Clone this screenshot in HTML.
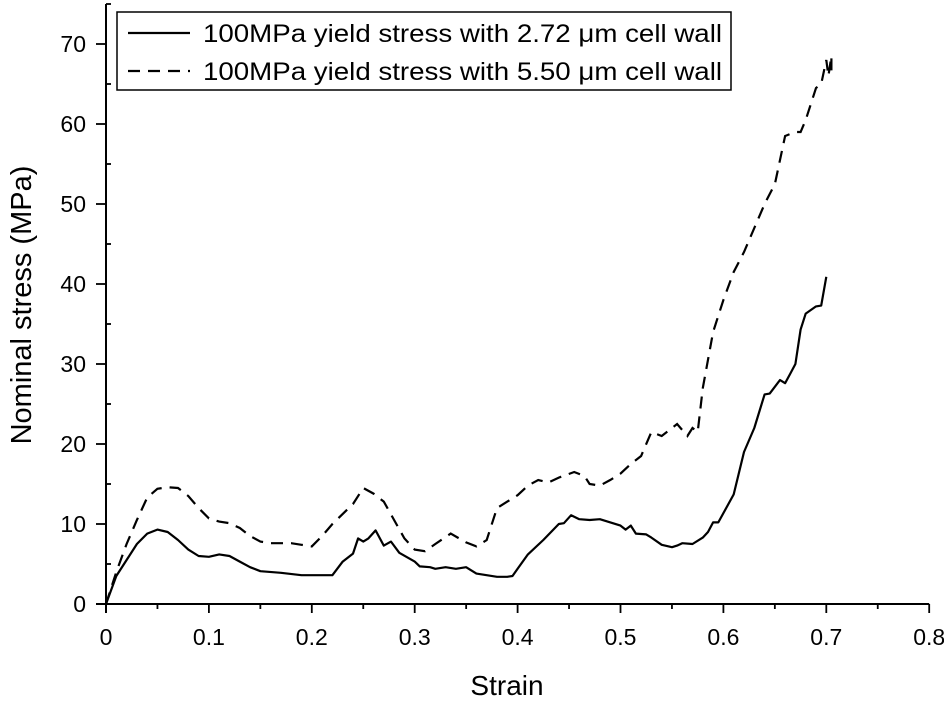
<!DOCTYPE html>
<html><head><meta charset="utf-8"><style>
body{margin:0;background:#fff;}
svg text{font-family:"Liberation Sans",Arial,sans-serif;fill:#000;}
</style></head><body>
<svg id="chart" width="944" height="707" viewBox="0 0 944 707" xmlns="http://www.w3.org/2000/svg">
<g id="axes"></g>
<g id="series"></g>
<g id="legend">
<rect x="117" y="12" width="614" height="78" fill="#fff" stroke="#000" stroke-width="1.5"/>
<line x1="128" y1="33" x2="190" y2="33" stroke="#000" stroke-width="2.2"/>
<text x="203" y="42" font-size="25" textLength="519" lengthAdjust="spacingAndGlyphs">100MPa yield stress with 2.72 μm cell wall</text>
<line x1="128" y1="71" x2="190" y2="71" stroke="#000" stroke-width="2.2" stroke-dasharray="12,8"/>
<text x="203" y="80" font-size="25" textLength="519" lengthAdjust="spacingAndGlyphs">100MPa yield stress with 5.50 μm cell wall</text>
</g>
<text x="507" y="695" font-size="28" text-anchor="middle">Strain</text>
<text transform="translate(31,305) rotate(-90)" font-size="29" text-anchor="middle">Nominal stress (MPa)</text>
</svg>
<script>
const xTicks=[0,0.1,0.2,0.3,0.4,0.5,0.6,0.7,0.8];
const xTickLabels=["0","0.1","0.2","0.3","0.4","0.5","0.6","0.7","0.8"];
const yTicks=[0,10,20,30,40,50,60,70];
const yTickLabels=["0","10","20","30","40","50","60","70"];
const solidStrain=[0,0.01,0.02,0.03,0.04,0.05,0.06,0.07,0.08,0.09,0.1,0.11,0.12,0.13,0.14,0.15,0.17,0.19,0.22,0.23,0.24,0.245,0.25,0.255,0.262,0.27,0.277,0.285,0.3,0.305,0.315,0.32,0.33,0.34,0.35,0.36,0.37,0.38,0.39,0.395,0.4,0.41,0.425,0.44,0.445,0.452,0.46,0.47,0.48,0.5,0.505,0.51,0.515,0.525,0.53,0.54,0.55,0.555,0.56,0.57,0.58,0.585,0.59,0.595,0.61,0.62,0.63,0.64,0.645,0.655,0.66,0.665,0.67,0.675,0.68,0.69,0.695,0.7];
const solidStress=[0,3.5,5.5,7.5,8.8,9.3,9.0,8.0,6.8,6.0,5.9,6.2,6.0,5.3,4.6,4.1,3.9,3.6,3.6,5.3,6.3,8.2,7.8,8.2,9.2,7.3,7.8,6.4,5.3,4.7,4.6,4.4,4.6,4.4,4.6,3.8,3.6,3.4,3.4,3.5,4.4,6.2,8.0,10.0,10.1,11.1,10.6,10.5,10.6,9.8,9.3,9.8,8.8,8.7,8.3,7.4,7.1,7.3,7.6,7.5,8.3,9.0,10.2,10.2,13.7,19,22,26.2,26.3,28,27.6,28.8,30,34.3,36.3,37.2,37.3,40.9];
const dashStrain=[0,0.01,0.02,0.03,0.04,0.05,0.06,0.07,0.08,0.09,0.1,0.11,0.12,0.13,0.14,0.15,0.16,0.18,0.19,0.2,0.21,0.22,0.24,0.25,0.26,0.27,0.28,0.29,0.3,0.31,0.32,0.335,0.35,0.36,0.37,0.38,0.39,0.4,0.41,0.42,0.43,0.44,0.455,0.465,0.47,0.48,0.49,0.5,0.51,0.52,0.53,0.54,0.555,0.565,0.57,0.575,0.58,0.59,0.6,0.61,0.62,0.63,0.64,0.65,0.66,0.67,0.675,0.68,0.69,0.695,0.7,0.702,0.705,0.705];
const dashStress=[0,4,7.5,10.5,13.3,14.4,14.6,14.5,13.5,12,10.7,10.3,10.1,9.5,8.5,7.8,7.6,7.6,7.4,7.2,8.5,10,12.5,14.5,13.8,12.8,10.5,8.2,6.8,6.6,7.5,8.8,7.7,7.2,8,12,12.8,13.6,14.8,15.5,15.2,15.8,16.5,16,15,14.8,15.5,16.3,17.5,18.5,21.5,21,22.5,21,22,21.5,27,34,38,41.5,44,47,50,52.5,58.5,59,59,60.5,64.5,65,68,66,68.5,66.5];
const X0=106,XS=1029,Y0=604,YS=8;
const sx=v=>X0+v*XS, sy=v=>Y0-v*YS;
const NS="http://www.w3.org/2000/svg";
function mk(t,a,p){const e=document.createElementNS(NS,t);for(const k in a)e.setAttribute(k,a[k]);p.appendChild(e);return e;}
const ax=document.getElementById('axes');
let e=mk('line',{x1:X0,y1:sy(0)+9,x2:X0,y2:sy(75),stroke:'#000','stroke-width':2},ax);


e=mk('line',{x1:X0-10,y1:Y0,x2:sx(0.8),y2:Y0,stroke:'#000','stroke-width':2},ax);


for(let i=0;i<=16;i++){const v=i*0.05,x=sx(v);
 e=mk('line',{x1:x,y1:Y0,x2:x,y2:Y0+(i%2?5:9),stroke:'#000','stroke-width':1.8},ax);
 
 }
xTicks.forEach((v,i)=>{e=mk('text',{x:sx(v),y:Y0+41,'font-size':23,'text-anchor':'middle'},ax);e.textContent=xTickLabels[i];
 
 });
for(let i=0;i<=15;i++){const y=sy(i*5);
 e=mk('line',{x1:X0,y1:y,x2:i%2?X0+5:X0-10,y2:y,stroke:'#000','stroke-width':1.8},ax);
 
 }
yTicks.forEach((v,i)=>{e=mk('text',{x:X0-20,y:sy(v)+8,'font-size':23,'text-anchor':'end'},ax);e.textContent=yTickLabels[i];
 
 });
const sr=document.getElementById('series');
function path(xs,ys){return xs.map((v,i)=>(i?'L':'M')+sx(v).toFixed(1)+','+sy(ys[i]).toFixed(1)).join(' ');}
e=mk('path',{d:path(solidStrain,solidStress),fill:'none',stroke:'#000','stroke-width':2.2,'stroke-linejoin':'round'},sr);


e=mk('path',{d:path(dashStrain,dashStress),fill:'none',stroke:'#000','stroke-width':2.2,'stroke-dasharray':'12,8'},sr);


</script>
</body></html>
